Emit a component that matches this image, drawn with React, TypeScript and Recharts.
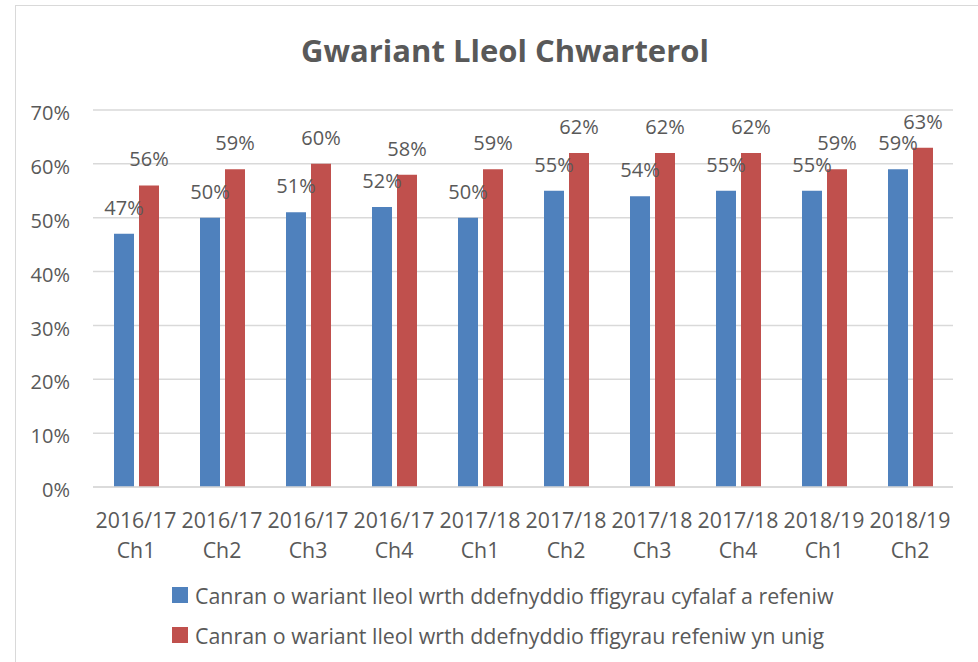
import React from 'react';
import { BarChart, Bar, XAxis, YAxis, CartesianGrid, LabelList, Legend } from 'recharts';

const chartTitle = 'Gwariant Lleol Chwarterol';
const periods = ['2016/17', '2016/17', '2016/17', '2016/17', '2017/18', '2017/18', '2017/18', '2017/18', '2018/19', '2018/19'];
const quarters = ['Ch1', 'Ch2', 'Ch3', 'Ch4', 'Ch1', 'Ch2', 'Ch3', 'Ch4', 'Ch1', 'Ch2'];
const capitalAndRevenue = [47, 50, 51, 52, 50, 55, 54, 55, 55, 59];
const revenueOnly = [56, 59, 60, 58, 59, 62, 62, 62, 59, 63];
const seriesNames = [
  'Canran o wariant lleol wrth ddefnyddio ffigyrau cyfalaf a refeniw',
  'Canran o wariant lleol wrth ddefnyddio ffigyrau refeniw yn unig',
];
const seriesColors = ['#4F81BD', '#C0504D'];
const yTicks = [0, 10, 20, 30, 40, 50, 60, 70];

const data = periods.map((p, i) => ({
  idx: i,
  period: p,
  quarter: quarters[i],
  a: capitalAndRevenue[i],
  b: revenueOnly[i],
}));

const FONT = '"Open Sans", sans-serif';
const TEXT = '#595959';

const XTick = (props: any) => {
  const { x, y, payload } = props;
  const i = payload.index ?? payload.value;
  return (
    <g>
      <text x={x} y={y + 41} textAnchor="middle" fontFamily={FONT} fontSize={21.3} fill={TEXT}>
        {periods[i]}
      </text>
      <text x={x} y={y + 71} textAnchor="middle" fontFamily={FONT} fontSize={21.3} fill={TEXT}>
        {quarters[i]}
      </text>
    </g>
  );
};

const LegendContent = () => (
  <div style={{ fontFamily: FONT, fontSize: 21.4, color: TEXT }}>
    {seriesNames.map((n, i) => (
      <div key={n} style={{ display: 'flex', alignItems: 'center', height: 40, whiteSpace: 'nowrap' }}>
        <span style={{ display: 'inline-block', width: 16, height: 16, background: seriesColors[i], marginRight: 7 }} />
        <span>{n}</span>
      </div>
    ))}
  </div>
);

export default function App() {
  return (
    <div style={{ position: 'absolute', left: 0, top: 0, width: 978, height: 662, overflow: 'hidden', background: '#fff' }}>
      <div style={{ position: 'absolute', left: 15, top: 5, width: 1000, height: 700, border: '1.5px solid #d9d9d9', boxSizing: 'border-box' }} />
      <svg style={{ position: 'absolute', left: 0, top: 0 }} width={978} height={100}>
        <text x={505} y={62} textAnchor="middle" fontFamily={FONT} fontWeight={700} fontSize={31} fill={TEXT}>
          {chartTitle}
        </text>
      </svg>
      <div style={{ position: 'absolute', left: 0, top: 0 }}>
        <BarChart
          width={978}
          height={662}
          data={data}
          margin={{ top: 110, right: 25, bottom: 0, left: 0 }}
          barSize={20}
          barGap={5}
        >
          <CartesianGrid vertical={false} stroke="#d9d9d9" strokeWidth={1.5} />
          <XAxis
            dataKey="idx"
            height={175}
            tickSize={0}
            tickMargin={0}
            axisLine={{ stroke: '#d9d9d9', strokeWidth: 1.5 }}
            tickLine={false}
            interval={0}
            tick={<XTick />}
          />
          <YAxis
            width={93}
            domain={[0, 70]}
            ticks={yTicks}
            tickFormatter={(v: number) => `${v}%`}
            tickSize={0}
            tickMargin={23}
            axisLine={false}
            tickLine={false}
            tick={{ fontFamily: FONT, fontSize: 20, fill: TEXT, dy: 3 }}
          />
          <Legend
            layout="vertical"
            align="center"
            verticalAlign="middle"
            wrapperStyle={{ left: 172, top: 575, width: 780, height: 80 }}
            content={<LegendContent />}
          />
          <Bar dataKey="a" name={seriesNames[0]} fill={seriesColors[0]} isAnimationActive={false}>
            <LabelList dataKey="a" position="top" offset={19} formatter={(v: any) => `${v}%`} style={{ fontFamily: FONT, fontSize: 20, fill: TEXT }} />
          </Bar>
          <Bar dataKey="b" name={seriesNames[1]} fill={seriesColors[1]} isAnimationActive={false}>
            <LabelList dataKey="b" position="top" offset={19} formatter={(v: any) => `${v}%`} style={{ fontFamily: FONT, fontSize: 20, fill: TEXT }} />
          </Bar>
        </BarChart>
      </div>
    </div>
  );
}
